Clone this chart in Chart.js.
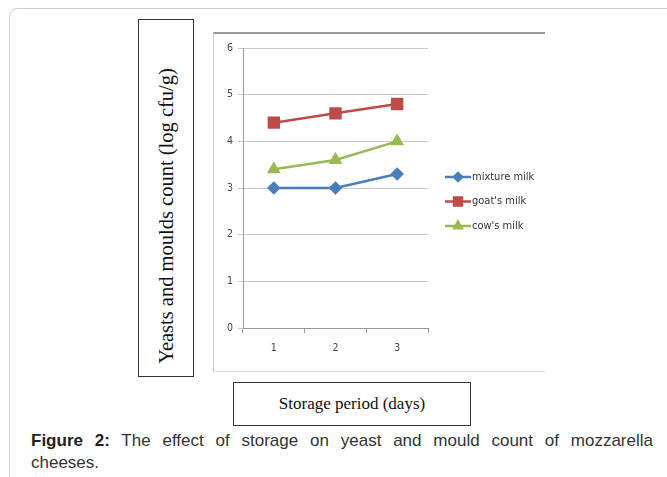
<!DOCTYPE html>
<html>
<head>
<meta charset="utf-8">
<script src="https://cdn.jsdelivr.net/npm/chart.js@4"></script>
<style>
  body { margin: 0; background: #fff; width: 667px; height: 477px; overflow: hidden; position: relative; }
  .outer { position: absolute; left: 9px; top: 8px; width: 700px; height: 520px; border: 1px solid #ccc; border-radius: 8px; }
  .ybox { position: absolute; left: 138px; top: 19px; width: 54px; height: 356px; border: 1.5px solid #333; }
  .ytitle { position: absolute; left: 166px; top: 216px; transform: translate(-50%, -50%) rotate(-90deg); white-space: nowrap;
            font-family: "Liberation Serif", "Times New Roman", serif; font-size: 20.5px; color: #111; }
  .frame { position: absolute; left: 213px; top: 32px; width: 331px; height: 337px; border-top: 2px solid #999; border-left: 1px solid #ccc; border-bottom: 1px solid #ddd; }
  .xbox { position: absolute; left: 233px; top: 382px; width: 236px; height: 42px; border: 1.5px solid #333;
          font-family: "Liberation Serif", "Times New Roman", serif; font-size: 17px; color: #111; text-align: center; line-height: 42px; }
  .caption { position: absolute; left: 31px; top: 430px; width: 622px; font-family: "Liberation Sans", Arial, sans-serif;
             font-size: 17px; line-height: 22px; color: #333; }
  .caption .l1 { text-align: justify; text-align-last: justify; }
  .caption b { color: #222; }
</style>
</head>
<body>
<div class="outer"></div>
<div class="ybox"></div>
<div class="ytitle">Yeasts and moulds count (log cfu/g)</div>
<div class="frame"></div>
<div style="position:absolute;left:213px;top:33px;width:331px;height:336px;">
  <canvas id="chart"></canvas>
</div>
<div class="xbox">Storage period (days)</div>
<div class="caption"><div class="l1"><b>Figure 2:</b> The effect of storage on yeast and mould count of mozzarella</div><div>cheeses.</div></div>
<script>
const days = ['1', '2', '3'];
const mixtureMilk = [3, 3, 3.3];
const goatsMilk = [4.4, 4.6, 4.8];
const cowsMilk = [3.4, 3.6, 4.0];
const seriesNames = ['mixture milk', "goat's milk", "cow's milk"];
const yTicks = [0, 1, 2, 3, 4, 5, 6];

const tickFont = { family: '"DejaVu Sans Condensed", "Liberation Sans Narrow", "Open Sans", sans-serif', size: 10.5 };

// legend drawn like excel: short line with the marker in the middle
const sideLegend = {
    id: 'sideLegend',
    afterDraw(chart) {
        const c = chart.ctx;
        const x0 = 232, x1 = 258;
        chart.data.datasets.forEach((ds, i) => {
            const y = 144 + i * 24.5;
            c.save();
            c.strokeStyle = ds.borderColor;
            c.lineWidth = 2.5;
            c.beginPath();
            c.moveTo(x0, y);
            c.lineTo(x1, y);
            c.stroke();
            Chart.helpers.drawPoint(c, {
                pointStyle: ds.pointStyle,
                radius: ds.pointRadius * 0.8,
                rotation: ds.pointRotation || 0,
                borderWidth: 1
            }, (x0 + x1) / 2, y);
            c.fillStyle = ds.borderColor;
            c.fill();
            c.fillStyle = '#333';
            c.font = '11px "DejaVu Sans Condensed", "Open Sans", sans-serif';
            c.textBaseline = 'middle';
            c.fillText(ds.label, x1 + 1, y);
            c.restore();
        });
    }
};

new Chart(document.getElementById('chart').getContext('2d'), {
    type: 'line',
    data: {
        labels: days,
        datasets: [{
            label: seriesNames[0],
            data: mixtureMilk,
            borderColor: '#4a7ebb',
            backgroundColor: '#4a7ebb',
            pointStyle: 'rectRot',
            pointRadius: 5,
            borderWidth: 2.5
        }, {
            label: seriesNames[1],
            data: goatsMilk,
            borderColor: '#be4b48',
            backgroundColor: '#be4b48',
            pointStyle: 'rect',
            pointRadius: 7,
            borderWidth: 2.5
        }, {
            label: seriesNames[2],
            data: cowsMilk,
            borderColor: '#98b954',
            backgroundColor: '#98b954',
            pointStyle: 'triangle',
            pointRadius: 5.5,
            borderWidth: 2.5
        }]
    },
    options: {
        responsive: true,
        maintainAspectRatio: false,
        animation: false,
        layout: { padding: { top: 15, right: 116, left: 0, bottom: 0 } },
        plugins: {
            legend: { display: false },
            tooltip: { enabled: false }
        },
        scales: {
            x: {
                offset: true,
                grid: { offset: true, drawOnChartArea: false, drawTicks: true, tickLength: 5, color: '#999' },
                border: { color: '#999' },
                ticks: { font: tickFont, color: '#444', padding: 9 },
                afterFit(s) { s.height = 41; }
            },
            y: {
                min: 0,
                max: 6,
                afterBuildTicks(s) { s.ticks = yTicks.map(v => ({ value: v })); },
                grid: { color: '#c8c8c8', tickLength: 5 },
                border: { color: '#999' },
                ticks: { font: tickFont, color: '#444', padding: 5 },
                afterFit(s) { s.width = 30; }
            }
        }
    },
    plugins: [sideLegend]
});
</script>
</body>
</html>
